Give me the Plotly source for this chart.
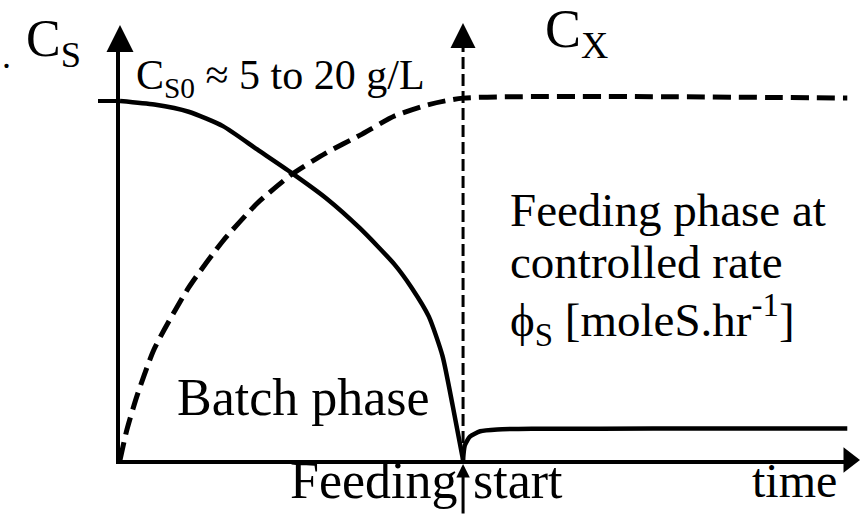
import plotly.graph_objects as go

FONT = "\"Liberation Serif\", \"Times New Roman\", serif"

# ---- data: time in arbitrary units, concentrations normalised to C_S0 ----
FEED_START = 10.0
CS0 = 1.0

# substrate during the batch phase
t_batch = [0, 1, 2, 3, 4, 5, 6, 7, 8, 8.5, 9, 9.4, 9.7, 10]
cs_batch = [1.00, 0.99, 0.97, 0.93, 0.865, 0.80, 0.73, 0.645, 0.545, 0.48, 0.40, 0.29, 0.15, 0.0]

# substrate during the fed phase (held low by the controlled feed)
t_fed = [10, 10.05, 10.2, 10.5, 11, 12, 14, 17, 21.2]
cs_fed = [0.0, 0.04, 0.065, 0.08, 0.085, 0.087, 0.087, 0.088, 0.088]

# biomass
t_x = [0, 0.2, 0.5, 1, 2, 3, 4, 5, 6, 7, 8, 9, 10, 21.2]
cx = [0, 0.084, 0.18, 0.31, 0.48, 0.61, 0.715, 0.795, 0.855, 0.905, 0.958, 0.99, 1.008, 1.008]

# ---- layout geometry ----
W, H = 865, 515
M_L, M_R, M_T, M_B = 120, 16, 48, 55
X_MAX = 21.25
Y_MAX = 1.1476


def px_x(px):
    return (px - M_L) / (W - M_L - M_R)


def px_y(py):
    return (H - M_B - py) / (H - M_T - M_B)


fig = go.Figure()

# substrate (solid)
fig.add_trace(go.Scatter(x=t_batch, y=cs_batch, mode="lines",
                         line=dict(color="black", width=4.5, shape="spline", smoothing=0.6)))
fig.add_trace(go.Scatter(x=t_fed, y=cs_fed, mode="lines",
                         line=dict(color="black", width=4.5, shape="spline", smoothing=0.6)))
# biomass (dashed)
fig.add_trace(go.Scatter(x=t_x, y=cx, mode="lines",
                         line=dict(color="black", width=5, dash="18px,8px",
                                   shape="spline", smoothing=0.6)))
# C_X axis at feeding start (dashed)
fig.add_trace(go.Scatter(x=[FEED_START, FEED_START], y=[0, Y_MAX], mode="lines",
                         line=dict(color="black", width=3, dash="12px,5px")))

# arrowhead closing the time axis
fig.add_trace(go.Scatter(x=[X_MAX], y=[0], mode="markers",
                         marker=dict(symbol="triangle-right", size=22, color="black",
                                     line=dict(width=0)),
                         cliponaxis=False))

annotations = [
    # arrowheads on top of the C_S and C_X axes
    dict(x=px_x(120), y=px_y(25), xref="paper", yref="paper", text="", showarrow=True,
         ax=0, ay=27, arrowhead=2, arrowsize=1.35, arrowwidth=4, arrowcolor="black",
         standoff=0),
    dict(x=px_x(463), y=px_y(23), xref="paper", yref="paper", text="", showarrow=True,
         ax=0, ay=26, arrowhead=2, arrowsize=1.67, arrowwidth=3, arrowcolor="black",
         standoff=0),
    # "Feeding start" pointer under the time axis
    dict(x=FEED_START, y=0, xref="x", yref="y", text="", showarrow=True,
         ax=0, ay=56, arrowhead=2, arrowsize=0.9, arrowwidth=3,
         arrowcolor="black", standoff=4),
]

labels = [
    (".", 0, 56, 36, "left"),
    ("C<sub>S</sub>", 24, 42, 52, "left"),
    ("C<sub>X</sub>", 543, 33, 54, "left"),
    ("C<sub>S0</sub> ≈ 5 to 20 g/L", 134, 78, 42, "left"),
    ("Feeding phase at", 508, 210, 47, "left"),
    ("controlled rate", 508, 262, 47, "left"),
    ("ϕ<sub>S</sub> [moleS.hr<sup>-1</sup>]", 508, 320, 47, "left"),
    ("Batch phase", 175, 397, 52, "left"),
    ("Feeding", 460, 480, 52, "right"),
    ("start", 471, 480, 52, "left"),
    ("time", 750, 480, 48, "left"),
]
for text, px, py, size, anchor in labels:
    annotations.append(dict(x=px_x(px), y=px_y(py), xref="paper", yref="paper",
                            text=text, showarrow=False, xanchor=anchor, yanchor="middle",
                            font=dict(family=FONT, size=size, color="black")))

fig.update_layout(
    width=W, height=H,
    margin=dict(l=M_L, r=M_R, t=M_T, b=M_B),
    paper_bgcolor="white", plot_bgcolor="white",
    showlegend=False,
    annotations=annotations,
    xaxis=dict(range=[0, X_MAX], showline=True, linewidth=4, linecolor="black",
               showgrid=False, zeroline=False, ticks="", showticklabels=False,
               fixedrange=True),
    yaxis=dict(range=[0, Y_MAX], showline=True, linewidth=4, linecolor="black",
               showgrid=False, zeroline=False, tickvals=[CS0], ticks="outside",
               ticklen=18, tickwidth=4, tickcolor="black", showticklabels=False,
               fixedrange=True),
)

fig.write_html("out.html")
